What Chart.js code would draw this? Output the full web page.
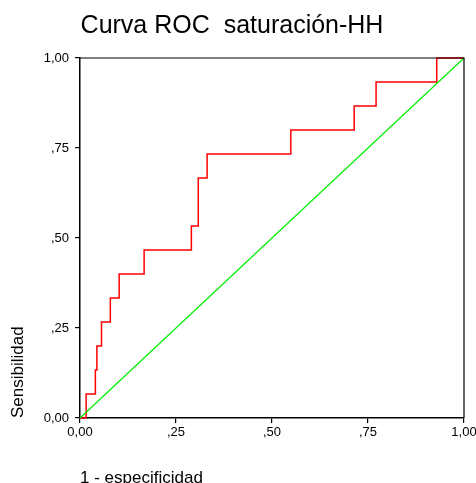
<!DOCTYPE html>
<html>
<head>
<meta charset="utf-8">
<script src="https://cdn.jsdelivr.net/npm/chart.js@4/dist/chart.umd.min.js"></script>
<style>
  html, body { margin: 0; padding: 0; background: #fff; overflow: hidden; }
  #wrap { width: 476px; height: 483px; }
</style>
</head>
<body>
<div id="wrap"><canvas id="c" width="476" height="483"></canvas></div>
<script>
// ROC curve corner points (1 - especificidad, sensibilidad)
const fpr = [0, 0.016, 0.040, 0.044, 0.056, 0.079, 0.102, 0.167, 0.290, 0.308, 0.331, 0.549, 0.714, 0.771, 0.929, 1.0];
const tpr = [0, 0.067, 0.133, 0.200, 0.267, 0.333, 0.400, 0.467, 0.533, 0.667, 0.733, 0.800, 0.867, 0.933, 1.0, 1.0];
// reference diagonal
const refX = [0, 1];
const refY = [0, 1];
const tickValues = [0, 0.25, 0.5, 0.75, 1];
const tickLabels = ['0,00', ',25', ',50', ',75', '1,00'];
const titleText = 'Curva ROC  saturación-HH';
const xTitle = '1 - especificidad';
const yTitle = 'Sensibilidad';

const FONT = 'Arial, "Liberation Sans", sans-serif';

const frame = {
  id: 'frame',
  afterDatasetsDraw(chart) {
    const {ctx, chartArea: a} = chart;
    ctx.save();
    ctx.strokeStyle = '#000';
    ctx.lineWidth = 1.2;
    ctx.beginPath();
    ctx.moveTo(a.left, a.top);
    ctx.lineTo(a.right, a.top);
    ctx.lineTo(a.right, a.bottom);
    ctx.stroke();
    ctx.restore();
  }
};

function tickCb(v) {
  const i = tickValues.findIndex(t => Math.abs(t - v) < 1e-9);
  return i >= 0 ? tickLabels[i] : '';
}

new Chart(document.getElementById('c'), {
  type: 'scatter',
  data: {
    datasets: [
      {
        data: refX.map((x, i) => ({x, y: refY[i]})),
        showLine: true,
        borderColor: '#00ee00',
        borderWidth: 1.2,
        pointRadius: 0,
        clip: 3
      },
      {
        data: fpr.map((x, i) => ({x, y: tpr[i]})),
        showLine: true,
        stepped: 'before',
        borderColor: '#ff0000',
        borderWidth: 1.5,
        pointRadius: 0,
        clip: 3
      }
    ]
  },
  options: {
    responsive: false,
    animation: false,
    devicePixelRatio: 1,
    layout: { padding: { left: 0, right: 12, top: 0, bottom: 0 } },
    plugins: {
      legend: { display: false },
      tooltip: { enabled: false },
      title: {
        display: true,
        text: titleText,
        color: '#000',
        font: { family: FONT, size: 25, weight: 'normal' },
        padding: { top: 11, bottom: 17 }
      }
    },
    scales: {
      x: {
        type: 'linear',
        min: 0, max: 1,
        afterFit(s) { s.height = 65; s.paddingRight = 0; s.paddingLeft = 0; },
        afterBuildTicks(s) { s.ticks = tickValues.map(v => ({value: v})); },
        ticks: { callback: tickCb, color: '#000', font: { family: FONT, size: 13 }, padding: 2, maxRotation: 0 },
        grid: { drawOnChartArea: false, drawTicks: true, tickLength: 5, color: '#000', lineWidth: 1.2 },
        border: { display: true, color: '#000', width: 1.5 },
        title: {
          display: true, text: xTitle, align: 'start', color: '#000',
          font: { family: FONT, size: 17 }, padding: { top: 0, bottom: -6 }
        }
      },
      y: {
        type: 'linear',
        min: 0, max: 1,
        afterFit(s) { s.width = 80; s.paddingTop = 0; s.paddingBottom = 0; },
        afterBuildTicks(s) { s.ticks = tickValues.map(v => ({value: v})); },
        ticks: { callback: tickCb, color: '#000', font: { family: FONT, size: 13 }, padding: 6 },
        grid: { drawOnChartArea: false, drawTicks: true, tickLength: 5, color: '#000', lineWidth: 1.2 },
        border: { display: true, color: '#000', width: 1.5 },
        title: {
          display: true, text: yTitle, align: 'start', color: '#000',
          font: { family: FONT, size: 17 }, padding: { top: 8, bottom: 0 }
        }
      }
    }
  },
  plugins: [frame]
});
</script>
</body>
</html>
